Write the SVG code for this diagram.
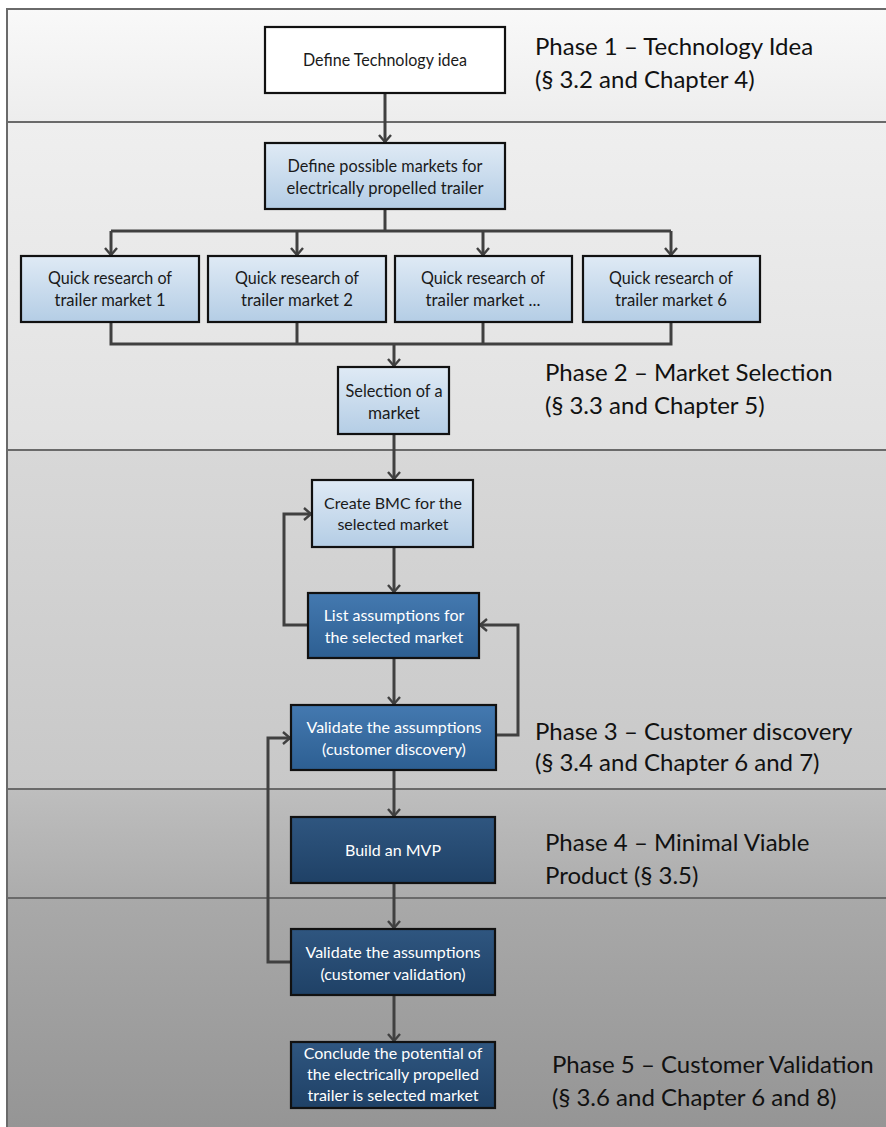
<svg xmlns="http://www.w3.org/2000/svg" width="886" height="1127" viewBox="0 0 886 1127">
  <style>
    .band-line { stroke: #6a6a6a; stroke-width: 2; }
    .box { stroke: #111; stroke-width: 2.2; }
    .t { font-family: Lato, "Open Sans", "Liberation Sans", sans-serif; text-anchor: middle; }
    .dark { fill: #1a1a1a; font-size: 16px; }
    .light { fill: #ffffff; font-size: 16px; }
    .cond { fill: #1a1a1a; font-size: 17px; }
    .phase { font-family: Lato, "Open Sans", "Liberation Sans", sans-serif; font-size: 24px; fill: #111; }
    .conn { fill: none; stroke: #404040; stroke-width: 3; }
    .arrow { marker-end: url(#head); }
  </style>
  <defs>
    <linearGradient id="b1" x1="0" y1="0" x2="0" y2="1"><stop offset="0" stop-color="#f9f9f9"/><stop offset="1" stop-color="#ededed"/></linearGradient>
    <linearGradient id="b2" x1="0" y1="0" x2="0" y2="1"><stop offset="0" stop-color="#efefef"/><stop offset="1" stop-color="#e1e1e1"/></linearGradient>
    <linearGradient id="b3" x1="0" y1="0" x2="0" y2="1"><stop offset="0" stop-color="#d8d8d8"/><stop offset="1" stop-color="#c8c8c8"/></linearGradient>
    <linearGradient id="b4" x1="0" y1="0" x2="0" y2="1"><stop offset="0" stop-color="#bebebe"/><stop offset="1" stop-color="#acacac"/></linearGradient>
    <linearGradient id="b5" x1="0" y1="0" x2="0" y2="1"><stop offset="0" stop-color="#a9a9a9"/><stop offset="1" stop-color="#959595"/></linearGradient>
    <linearGradient id="lightBlue" x1="0" y1="0" x2="0" y2="1"><stop offset="0" stop-color="#dfeaf5"/><stop offset="1" stop-color="#b4cde5"/></linearGradient>
    <linearGradient id="midBlue" x1="0" y1="0" x2="0" y2="1"><stop offset="0" stop-color="#4479b0"/><stop offset="1" stop-color="#2d5f92"/></linearGradient>
    <linearGradient id="navy" x1="0" y1="0" x2="0" y2="1"><stop offset="0" stop-color="#2f5680"/><stop offset="1" stop-color="#1f4166"/></linearGradient>
    <marker id="head" viewBox="-9 -8 11 16" markerWidth="11" markerHeight="16" refX="0" refY="0" orient="auto" markerUnits="userSpaceOnUse">
      <path d="M-7,-6 L0,0 L-7,6" fill="none" stroke="#404040" stroke-width="2.4"/>
    </marker>
  </defs>

  <!-- phase bands -->
  <g id="bands">
    <rect x="7" y="9" width="879" height="113" fill="url(#b1)"/>
    <rect x="7" y="122" width="879" height="328" fill="url(#b2)"/>
    <rect x="7" y="450" width="879" height="339" fill="url(#b3)"/>
    <rect x="7" y="789" width="879" height="109" fill="url(#b4)"/>
    <rect x="7" y="898" width="879" height="229" fill="url(#b5)"/>
    <line class="band-line" x1="7" y1="9" x2="886" y2="9"/>
    <line class="band-line" x1="7" y1="8" x2="7" y2="1127"/>
    <line class="band-line" x1="7" y1="122" x2="886" y2="122"/>
    <line class="band-line" x1="7" y1="450" x2="886" y2="450"/>
    <line class="band-line" x1="7" y1="789" x2="886" y2="789"/>
    <line class="band-line" x1="7" y1="898" x2="886" y2="898"/>
  </g>

  <!-- phase labels -->
  <g id="phase-labels">
    <text class="phase" x="535" y="55">Phase 1 – Technology Idea</text>
    <text class="phase" x="535" y="88">(§ 3.2 and Chapter 4)</text>
    <text class="phase" x="545" y="381">Phase 2 – Market Selection</text>
    <text class="phase" x="545" y="414">(§ 3.3 and Chapter 5)</text>
    <text class="phase" x="535" y="740">Phase 3 – Customer discovery</text>
    <text class="phase" x="535" y="771">(§ 3.4 and Chapter 6 and 7)</text>
    <text class="phase" x="545" y="851">Phase 4 – Minimal Viable</text>
    <text class="phase" x="545" y="884">Product (§ 3.5)</text>
    <text class="phase" x="552" y="1073">Phase 5 – Customer Validation</text>
    <text class="phase" x="552" y="1106">(§ 3.6 and Chapter 6 and 8)</text>
  </g>

  <!-- connectors -->
  <g id="connectors">
    <line class="conn arrow" x1="385" y1="93" x2="385" y2="142"/>
    <polyline class="conn" points="385,209 385,231"/>
    <line class="conn" x1="111" y1="231" x2="671" y2="231"/>
    <line class="conn arrow" x1="111" y1="231" x2="111" y2="255"/>
    <line class="conn arrow" x1="297" y1="231" x2="297" y2="255"/>
    <line class="conn arrow" x1="483" y1="231" x2="483" y2="255"/>
    <line class="conn arrow" x1="671" y1="231" x2="671" y2="255"/>
    <polyline class="conn" points="111,322 111,344 671,344 671,322"/>
    <line class="conn" x1="297" y1="322" x2="297" y2="344"/>
    <line class="conn" x1="483" y1="322" x2="483" y2="344"/>
    <line class="conn arrow" x1="394" y1="344" x2="394" y2="366"/>
    <line class="conn arrow" x1="394" y1="434" x2="394" y2="479"/>
    <line class="conn arrow" x1="394" y1="547" x2="394" y2="592"/>
    <polyline class="conn arrow" points="308,625 284,625 284,514 311,514"/>
    <line class="conn arrow" x1="394" y1="658" x2="394" y2="704"/>
    <polyline class="conn arrow" points="496,735 518,735 518,625 480,625"/>
    <line class="conn arrow" x1="394" y1="770" x2="394" y2="816"/>
    <line class="conn arrow" x1="394" y1="883" x2="394" y2="928"/>
    <polyline class="conn arrow" points="291,962 268,962 268,738 290,738"/>
    <line class="conn arrow" x1="394" y1="995" x2="394" y2="1041"/>
  </g>

  <!-- nodes -->
  <g id="define-technology-idea">
    <rect class="box" x="265" y="27" width="240" height="66" fill="#ffffff"/>
    <text class="t cond" x="385" y="66" textLength="164" lengthAdjust="spacingAndGlyphs">Define Technology idea</text>
  </g>
  <g id="define-markets">
    <rect class="box" x="265" y="143" width="240" height="66" fill="url(#lightBlue)"/>
    <text class="t cond" x="385" y="172" textLength="195" lengthAdjust="spacingAndGlyphs">Define possible markets for</text>
    <text class="t cond" x="385" y="194" textLength="197" lengthAdjust="spacingAndGlyphs">electrically propelled trailer</text>
  </g>
  <g id="research-market-1">
    <rect class="box" x="21" y="256" width="178" height="66" fill="url(#lightBlue)"/>
    <text class="t cond" x="110" y="284" textLength="124" lengthAdjust="spacingAndGlyphs">Quick research of</text>
    <text class="t cond" x="110" y="306" textLength="111" lengthAdjust="spacingAndGlyphs">trailer market 1</text>
  </g>
  <g id="research-market-2">
    <rect class="box" x="208" y="256" width="178" height="66" fill="url(#lightBlue)"/>
    <text class="t cond" x="297" y="284" textLength="124" lengthAdjust="spacingAndGlyphs">Quick research of</text>
    <text class="t cond" x="297" y="306" textLength="112" lengthAdjust="spacingAndGlyphs">trailer market 2</text>
  </g>
  <g id="research-market-n">
    <rect class="box" x="395" y="256" width="177" height="66" fill="url(#lightBlue)"/>
    <text class="t cond" x="483" y="284" textLength="124" lengthAdjust="spacingAndGlyphs">Quick research of</text>
    <text class="t cond" x="483" y="306" textLength="115" lengthAdjust="spacingAndGlyphs">trailer market ...</text>
  </g>
  <g id="research-market-6">
    <rect class="box" x="583" y="256" width="177" height="66" fill="url(#lightBlue)"/>
    <text class="t cond" x="671" y="284" textLength="124" lengthAdjust="spacingAndGlyphs">Quick research of</text>
    <text class="t cond" x="671" y="306" textLength="112" lengthAdjust="spacingAndGlyphs">trailer market 6</text>
  </g>
  <g id="select-market">
    <rect class="box" x="338" y="367" width="111" height="67" fill="url(#lightBlue)"/>
    <text class="t cond" x="394" y="397" textLength="97" lengthAdjust="spacingAndGlyphs">Selection of a</text>
    <text class="t cond" x="394" y="419" textLength="52" lengthAdjust="spacingAndGlyphs">market</text>
  </g>
  <g id="create-bmc">
    <rect class="box" x="312" y="480" width="161" height="67" fill="url(#lightBlue)"/>
    <text class="t dark" x="393" y="509">Create BMC for the</text>
    <text class="t dark" x="393" y="530">selected market</text>
  </g>
  <g id="list-assumptions">
    <rect class="box" x="308" y="593" width="171" height="65" fill="url(#midBlue)"/>
    <text class="t light" x="394" y="621">List assumptions for</text>
    <text class="t light" x="394" y="643">the selected market</text>
  </g>
  <g id="validate-discovery">
    <rect class="box" x="291" y="705" width="205" height="65" fill="url(#midBlue)"/>
    <text class="t light" x="394" y="733">Validate the assumptions</text>
    <text class="t light" x="394" y="755">(customer discovery)</text>
  </g>
  <g id="build-mvp">
    <rect class="box" x="291" y="817" width="204" height="66" fill="url(#navy)"/>
    <text class="t light" x="393" y="856">Build an MVP</text>
  </g>
  <g id="validate-validation">
    <rect class="box" x="291" y="929" width="204" height="66" fill="url(#navy)"/>
    <text class="t light" x="393" y="958">Validate the assumptions</text>
    <text class="t light" x="393" y="980">(customer validation)</text>
  </g>
  <g id="conclude-potential">
    <rect class="box" x="291" y="1042" width="204" height="66" fill="url(#navy)"/>
    <text class="t light" x="393" y="1059">Conclude the potential of</text>
    <text class="t light" x="393" y="1080">the electrically propelled</text>
    <text class="t light" x="393" y="1101">trailer is selected market</text>
  </g>
</svg>
